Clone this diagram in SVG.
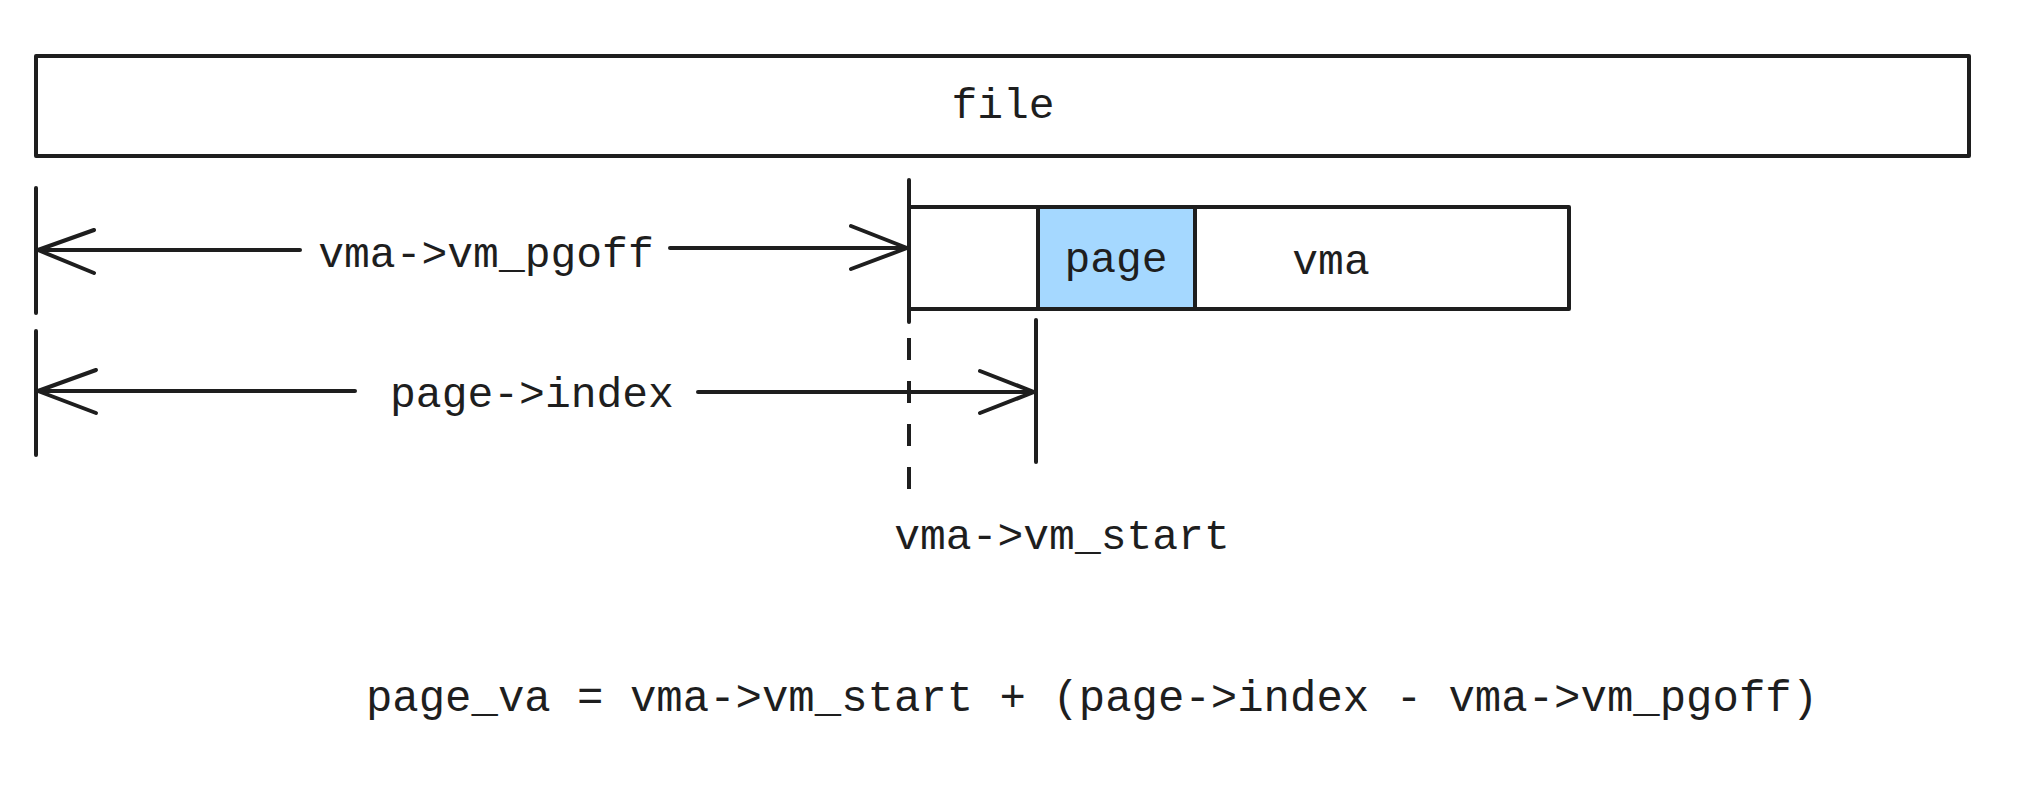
<svg xmlns="http://www.w3.org/2000/svg" width="2021" height="789" viewBox="0 0 2021 789">
<style>
  .box { fill: #ffffff; stroke: #1e1e1e; stroke-width: 4; stroke-linejoin: round; }
  .pg { fill: #a5d8ff; stroke: #1e1e1e; stroke-width: 4; }
  .ln { fill: none; stroke: #1e1e1e; stroke-width: 4; stroke-linecap: round; stroke-linejoin: round; }
  .dash { stroke-dasharray: 22 21; stroke-linecap: butt; }
  .t { font-family: "Liberation Mono", "DejaVu Sans Mono", monospace; font-size: 43px; fill: #1e1e1e; text-anchor: middle; }
  .f { font-size: 44px; }
</style>
<rect width="2021" height="789" fill="#ffffff"/>
<g id="file">
  <rect class="box" x="36" y="56" width="1933" height="100"/>
  <text class="t" x="1003" y="118">file</text>
</g>
<g id="vma">
  <rect class="box" x="909" y="207" width="660" height="102"/>
  <text class="t" x="1331" y="274">vma</text>
</g>
<g id="page">
  <rect class="pg" x="1038" y="207" width="157" height="102"/>
  <text class="t" x="1116" y="272">page</text>
</g>
<g id="connectors">
  <line class="ln" x1="36" y1="188" x2="36" y2="313"/>
  <line class="ln" x1="909" y1="180" x2="909" y2="322"/>
  <line class="ln" x1="36" y1="331" x2="36" y2="455"/>
  <line class="ln" x1="1036" y1="320" x2="1036" y2="462"/>
  <line class="ln dash" x1="909" y1="338" x2="909" y2="490"/>
  <line class="ln" x1="38" y1="250" x2="300" y2="250"/>
  <polyline class="ln" points="94,230 38,250 94,273"/>
  <line class="ln" x1="670" y1="248" x2="907" y2="248"/>
  <polyline class="ln" points="851,226 907,248 851,269"/>
  <line class="ln" x1="38" y1="391" x2="355" y2="391"/>
  <polyline class="ln" points="96,370 38,391 96,413"/>
  <line class="ln" x1="698" y1="392" x2="1034" y2="392"/>
  <polyline class="ln" points="980,371 1034,392 980,413"/>
</g>
<g id="labels">
  <text class="t" x="486" y="267">vma-&gt;vm_pgoff</text>
  <text class="t" x="532" y="407">page-&gt;index</text>
  <text class="t" x="1062" y="549">vma-&gt;vm_start</text>
  <text class="t f" x="1092" y="711">page_va = vma-&gt;vm_start + (page-&gt;index - vma-&gt;vm_pgoff)</text>
</g>
</svg>
